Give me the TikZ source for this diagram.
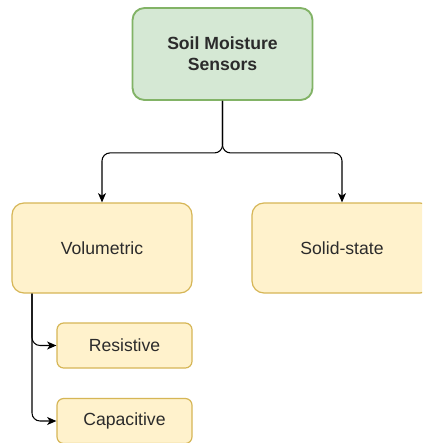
\documentclass[tikz,border=0pt]{standalone}
\usepackage{fontspec}
\setmainfont{Liberation Sans}
\usetikzlibrary{arrows.meta}
\definecolor{greenfill}{HTML}{D5E8D4}
\definecolor{greenline}{HTML}{82B366}
\definecolor{yellowfill}{HTML}{FFF2CC}
\definecolor{yellowline}{HTML}{D6B656}
\definecolor{textgray}{HTML}{2B2B2B}
\tikzset{
  rootbox/.style={draw=greenline, fill=greenfill, line width=1.4pt, rounded corners=9pt,
    minimum width=135pt, minimum height=69pt, align=center, inner sep=0pt,
    font=\fontsize{13.2pt}{15.8pt}\selectfont\bfseries, text=textgray},
  catbox/.style={draw=yellowline, fill=yellowfill, line width=0.9pt, rounded corners=9pt,
    minimum width=135pt, minimum height=67.5pt, inner sep=0pt,
    font=\fontsize{13.2pt}{15.8pt}\selectfont, text=textgray},
  subbox/.style={draw=yellowline, fill=yellowfill, line width=0.9pt, rounded corners=5pt,
    minimum width=101.25pt, minimum height=33.75pt, inner sep=0pt,
    font=\fontsize{13.2pt}{15.8pt}\selectfont, text=textgray},
  link/.style={draw=black, line width=0.8pt, rounded corners=6pt,
    -{Stealth[length=7pt,width=6pt,inset=2pt]}},
}
\begin{document}
\begin{tikzpicture}[x=0.75pt,y=-0.75pt]
  \useasboundingbox (0,0) rectangle (422,443);
  \clip (0,0) rectangle (422,443);
  \fill[white] (0,0) rectangle (422,443);

  % boxes
  \node[rootbox] (root) at (222.5,54) {Soil Moisture\\Sensors};
  \node[catbox] (vol) at (102,248) {Volumetric};
  \node[catbox] (solid) at (342,248) {Solid-state};
  \node[subbox] (res) at (124.5,345.5) {Resistive};
  \node[subbox] (cap) at (124.5,421) {Capacitive};

  % connectors from the root to the two categories
  \draw[link] (root.south) -- ++(0,52) -| (vol.north);
  \draw[link] (root.south) -- ++(0,52) -| (solid.north);

  % connectors from Volumetric to its subtypes
  \coordinate (trunk) at ([xshift=-52.5pt]vol.south);
  \draw[link] (trunk) |- (res.west);
  \draw[link] (trunk) |- (cap.west);
\end{tikzpicture}
\end{document}
